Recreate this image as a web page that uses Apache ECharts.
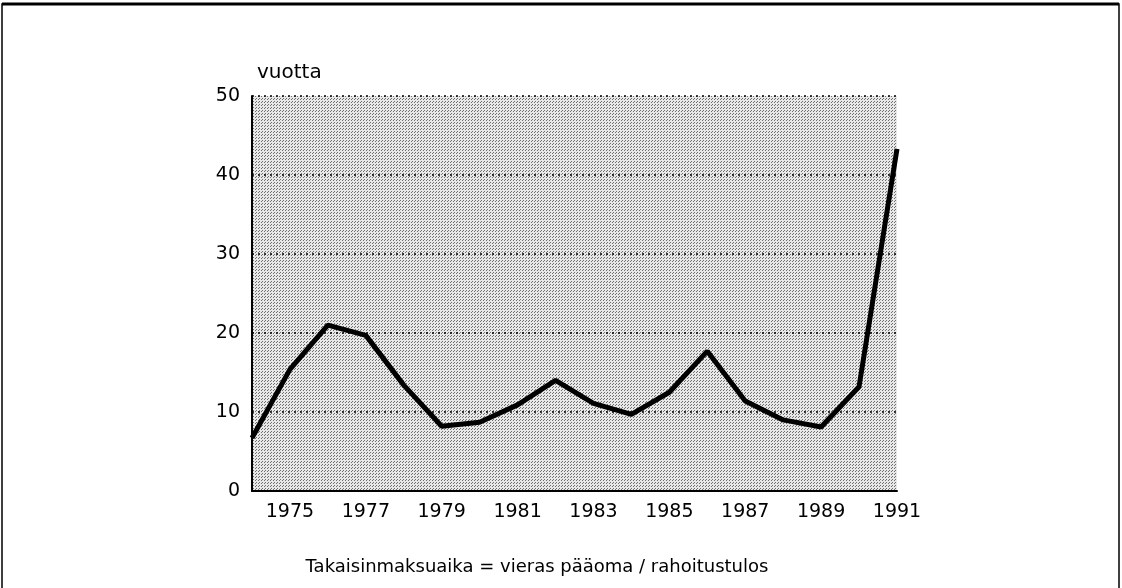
<!DOCTYPE html>
<html>
<head>
<meta charset="utf-8">
<script src="https://cdn.jsdelivr.net/npm/echarts@6/dist/echarts.min.js"></script>
<style>html,body{margin:0;padding:0;background:#fff}#c{width:1122px;height:588px}</style>
</head>
<body>
<div id="c"></div>
<script>
const years = ['1974','1975','1976','1977','1978','1979','1980','1981','1982','1983','1984','1985','1986','1987','1988','1989','1990','1991'];
const payback = [6.7, 15.4, 21.0, 19.7, 13.4, 8.2, 8.7, 10.9, 14.0, 11.1, 9.7, 12.5, 17.7, 11.4, 9.0, 8.1, 13.2, 43.3];
const yTicks = [0, 10, 20, 30, 40, 50];
const unitLabel = 'vuotta';
const caption = 'Takaisinmaksuaika = vieras pääoma / rahoitustulos';

// stipple pattern
const pc = document.createElement('canvas');
pc.width = 3; pc.height = 3;
const px = pc.getContext('2d');
px.fillStyle = '#e8e8e8'; px.fillRect(0,0,3,3);
px.fillStyle = '#6e6e6e'; px.fillRect(0,0,1,1); px.fillRect(1,2,1,1);

const chart = echarts.init(document.getElementById('c'), null, {renderer:'canvas'});
const font = 'DejaVu Sans, Liberation Sans, Arial, sans-serif';
chart.setOption({
  animation: false,
  backgroundColor: '#fff',
  grid: {left: 252, right: 225, top: 96, bottom: 97, show: true,
         backgroundColor: {image: pc, repeat: 'repeat'}, borderWidth: 0},
  title: [
    {text: unitLabel, left: 252, top: 58, textStyle: {fontFamily: font, fontSize: 20, fontWeight: 'normal', color: '#000'}},
    {text: caption, left: 532, top: 553, textAlign: 'center', textStyle: {fontFamily: font, fontSize: 18, fontWeight: 'normal', color: '#000'}}
  ],
  xAxis: {
    type: 'category', data: years, boundaryGap: false,
    axisLine: {show: true, lineStyle: {color: '#000', width: 2}},
    axisTick: {show: false},
    axisLabel: {interval: function(i, v){ return (+v) % 2 === 1; }, color: '#000', fontFamily: font, fontSize: 19, margin: 12},
    splitLine: {show: false}
  },
  yAxis: {
    type: 'value', min: yTicks[0], max: yTicks[yTicks.length-1], interval: 10,
    axisLine: {show: true, lineStyle: {color: '#000', width: 2}},
    axisTick: {show: false},
    axisLabel: {color: '#000', fontFamily: font, fontSize: 19, margin: 12},
    splitLine: {show: true, lineStyle: {color: '#000', width: 1.5, type: [2, 4]}}
  },
  series: [{
    type: 'line', data: payback, symbol: 'none',
    lineStyle: {color: '#000', width: 5}, z: 5
  }],
  graphic: [
    {type: 'rect', shape: {x: 2, y: 4, width: 1117, height: 620},
     style: {fill: 'none', stroke: '#000', lineWidth: 1.5}, silent: true, z: 100},
    {type: 'line', shape: {x1: 2, y1: 4, x2: 1119, y2: 4},
     style: {stroke: '#000', lineWidth: 3}, silent: true, z: 100}
  ]
});
</script>
</body>
</html>
